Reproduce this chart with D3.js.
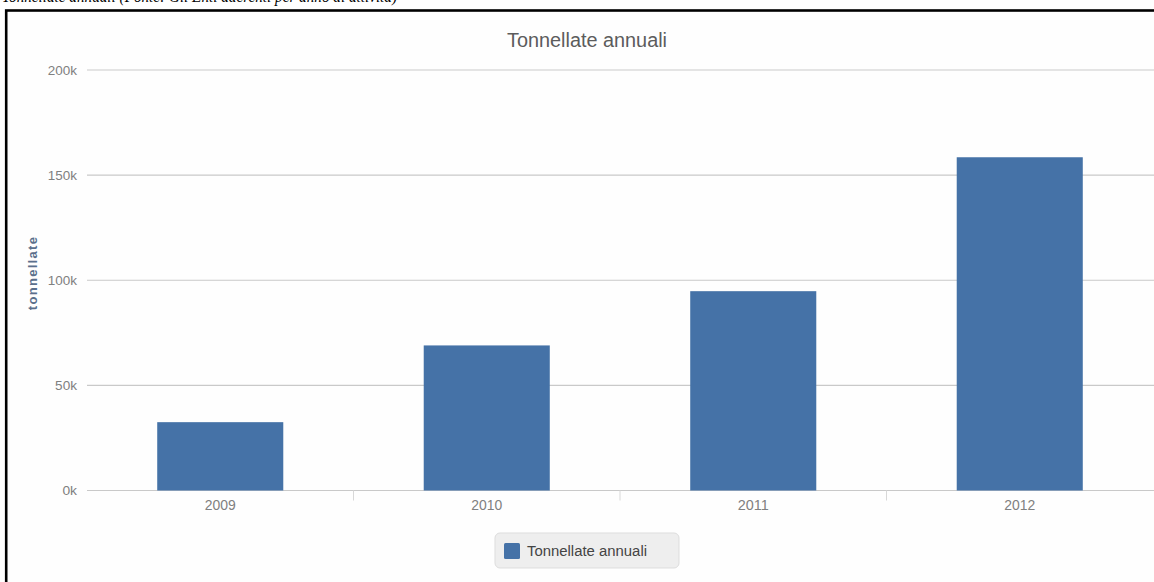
<!DOCTYPE html>
<html>
<head>
<meta charset="utf-8">
<script src="https://cdn.jsdelivr.net/npm/d3@7/dist/d3.min.js"></script>
<style>
  html, body { margin: 0; padding: 0; background: #ffffff; }
  svg { display: block; }
</style>
</head>
<body>
<svg id="chart" width="1154" height="582"></svg>
<script>
// Annual tonnage per year
const years = ["2009", "2010", "2011", "2012"];
const tonnes = [32500, 69000, 94800, 158500];
const yTicks = [0, 50000, 100000, 150000, 200000];
const seriesName = "Tonnellate annuali";
const chartTitle = "Tonnellate annuali";
const yAxisTitle = "tonnellate";
const caption = "Tonnellate annuali (Fonte: Gli Enti aderenti per anno di attività)";

const svg = d3.select("#chart");
const W = 1154, H = 582;
const plot = { left: 87, right: 1153, top: 70, bottom: 490.5 };
const barColor = "#4572A7";
const font = "'Liberation Sans', Arial, sans-serif";

// caption above the frame, running off the top of the page
svg.append("text")
  .attr("x", 2).attr("y", 1.5)
  .attr("font-family", "'Liberation Serif', 'Times New Roman', serif")
  .attr("font-style", "italic")
  .attr("font-size", 16)
  .attr("fill", "#000")
  .attr("textLength", 395).attr("lengthAdjust", "spacingAndGlyphs")
  .text(caption);

// frame
svg.append("rect")
  .attr("x", 6.2).attr("y", 10.5)
  .attr("width", W + 20).attr("height", H + 20)
  .attr("fill", "#fefefe")
  .attr("stroke", "#000").attr("stroke-width", 2.6);

const x = d3.scaleBand().domain(years).range([plot.left, plot.right]).paddingInner(0).paddingOuter(0);
const y = d3.scaleLinear().domain([0, 200000]).range([plot.bottom, plot.top]);
const barW = x.bandwidth() * 0.473;

// horizontal grid lines
svg.append("g")
  .selectAll("line")
  .data(yTicks)
  .join("line")
  .attr("x1", plot.left).attr("x2", W)
  .attr("y1", d => y(d)).attr("y2", d => y(d))
  .attr("stroke", "#c9c9c9").attr("stroke-width", 1.2);

// y tick labels
svg.append("g")
  .selectAll("text")
  .data(yTicks)
  .join("text")
  .attr("x", 77).attr("y", d => y(d))
  .attr("dy", "0.36em")
  .attr("text-anchor", "end")
  .attr("font-family", font)
  .attr("font-size", 13)
  .attr("fill", "#808080")
  .attr("textLength", d => (d / 1000 + "k").length * 7.3)
  .attr("lengthAdjust", "spacingAndGlyphs")
  .text(d => (d / 1000) + "k");

// y axis title
svg.append("text")
  .attr("transform", `translate(37,273) rotate(-90)`)
  .attr("text-anchor", "middle")
  .attr("font-family", font)
  .attr("font-size", 13)
  .attr("font-weight", "bold")
  .attr("letter-spacing", 1.3)
  .attr("fill", "#5a6f8c")
  .text(yAxisTitle);

// category tick marks between bands
svg.append("g")
  .selectAll("line")
  .data(years.slice(1))
  .join("line")
  .attr("x1", d => x(d)).attr("x2", d => x(d))
  .attr("y1", plot.bottom).attr("y2", plot.bottom + 10)
  .attr("stroke", "#d8d8d8").attr("stroke-width", 1);

// bars
svg.append("g")
  .selectAll("rect")
  .data(years.map((yr, i) => ({ yr, v: tonnes[i] })))
  .join("rect")
  .attr("x", d => x(d.yr) + (x.bandwidth() - barW) / 2)
  .attr("width", barW)
  .attr("y", d => y(d.v))
  .attr("height", d => y(0) - y(d.v))
  .attr("fill", barColor);

// x labels
svg.append("g")
  .selectAll("text")
  .data(years)
  .join("text")
  .attr("x", d => x(d) + x.bandwidth() / 2)
  .attr("y", 510)
  .attr("text-anchor", "middle")
  .attr("font-family", font)
  .attr("font-size", 14)
  .attr("fill", "#808080")
  .attr("textLength", 31).attr("lengthAdjust", "spacingAndGlyphs")
  .text(d => d);

// title
svg.append("text")
  .attr("x", 587).attr("y", 47)
  .attr("text-anchor", "middle")
  .attr("font-family", font)
  .attr("font-size", 20)
  .attr("fill", "#5c5c5c")
  .attr("textLength", 160).attr("lengthAdjust", "spacingAndGlyphs")
  .text(chartTitle);

// legend
const lg = svg.append("g").attr("transform", "translate(495,533)");
lg.append("rect")
  .attr("width", 184).attr("height", 35).attr("rx", 5)
  .attr("fill", "#eeeeee").attr("stroke", "#dddddd");
lg.append("rect")
  .attr("x", 9).attr("y", 10).attr("width", 16).attr("height", 16).attr("rx", 1.5)
  .attr("fill", barColor);
lg.append("text")
  .attr("x", 32).attr("y", 18).attr("dy", "0.36em")
  .attr("font-family", font)
  .attr("font-size", 14)
  .attr("fill", "#444")
  .attr("textLength", 120).attr("lengthAdjust", "spacingAndGlyphs")
  .text(seriesName);
</script>
</body>
</html>
